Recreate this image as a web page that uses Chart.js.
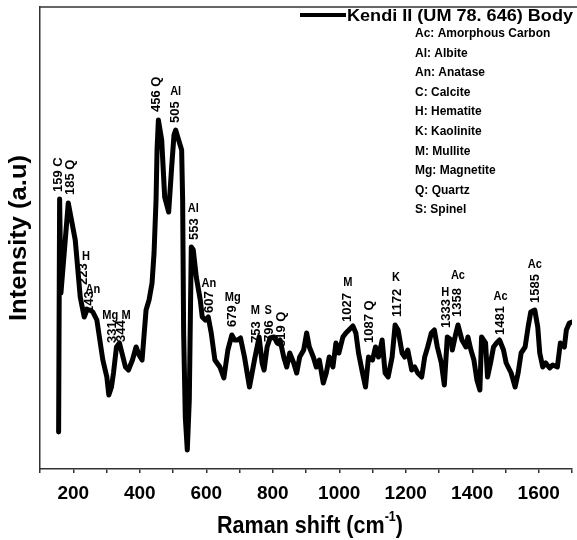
<!DOCTYPE html>
<html>
<head>
<meta charset="utf-8">
<script src="https://cdn.jsdelivr.net/npm/chart.js@4.4.1/dist/chart.umd.min.js"></script>
<style>
html,body{margin:0;padding:0;background:#fff;overflow:hidden;}
#wrap{width:581px;height:540px;}
</style>
</head>
<body>
<div id="wrap"><canvas id="c" width="581" height="540"></canvas></div>
<script>
// ---- data ----
const seriesName = 'Kendi II (UM 78. 646) Body';
const ramanShift = [156,159,163,185,206,221,227,233,241,250,259,271,280,289,301,307,315,321,330,339,348,357,366,378,389,398,407,419,428,437,443,449,452,456,466,475,487,496,503,508,516,526,529,532,537,543,549,555,561,570,582,588,597,606,615,626,641,653,665,677,685,694,703,715,730,745,759,768,774,783,792,804,813,822,833,842,851,863,872,881,893,902,910,922,931,940,952,961,970,981,990,999,1011,1020,1029,1041,1050,1058,1070,1079,1088,1100,1109,1118,1129,1138,1147,1159,1168,1177,1189,1197,1206,1218,1227,1236,1248,1257,1266,1277,1286,1295,1307,1316,1325,1337,1340,1351,1357,1369,1381,1387,1396,1405,1414,1423,1428,1440,1446,1455,1464,1473,1482,1494,1502,1517,1529,1538,1547,1559,1568,1576,1588,1597,1603,1612,1621,1633,1642,1656,1665,1677,1683,1692,1700];
const intensity = [37,270,176,266,229,172,162,152,159,159,157,149,129,109,92,74,82,96,122,126,114,102,99,109,122,114,109,159,169,186,216,269,319,349,329,272,257,302,334,339,330,319,269,136,52,19,69,222,219,192,169,152,149,152,136,109,102,91,119,134,129,129,131,112,82,109,132,106,99,122,131,132,126,129,112,102,116,106,96,112,119,136,122,112,102,109,86,96,112,102,126,116,132,136,139,143,136,116,96,82,112,109,122,112,129,96,92,112,144,139,116,112,119,99,102,96,92,112,122,136,139,122,106,84,132,129,119,136,144,129,122,132,119,109,89,79,132,126,92,106,122,126,129,119,106,96,82,96,116,122,142,157,159,142,116,102,106,101,104,102,126,122,139,146,147];
const xTickValues = [200,400,600,800,1000,1200,1400,1600];

// peak labels (rotated numbers) : text, shift, intensity at text bottom
const peakTexts  = ['159 C','185 Q','223','243','331','344','456 Q','505','553','607','679','753','796','819 Q','1027','1087 Q','1172','1333','1358','1481','1585'];
const peakShifts = [154,191,231,250,318,345,449,508,564,611,680,751,789,825,1026,1091,1174,1322,1354,1485,1591];
const peakBase   = [277,274,184,156,126,127,357,346,229,156,142,126,127,122,147,126,152,141,152,134,166];
// phase letters written horizontally above the numbers
const phaseTexts  = ['H','An','Mg M','Al','Al','An','Mg','M','S','M','K','H','Ac','Ac','Ac'];
const phaseShifts = [238,259,330,508,561,608,680,748,786,1026,1171,1319,1357,1485,1588];
const phaseLevel  = [213,180,154,378,261,186,172,159,159,187,192,177,194,173,205];

const legendKey = ['Ac: Amorphous Carbon','Al: Albite','An: Anatase','C: Calcite','H: Hematite','K: Kaolinite','M: Mullite','Mg: Magnetite','Q: Quartz','S: Spinel'];

const FONT = "'Liberation Sans', Arial, Helvetica, sans-serif";

const points = ramanShift.map((x,i)=>({x:x, y:intensity[i]}));

function fitText(ctx, text, x, y, w){
  const m = ctx.measureText(text).width;
  const k = w ? w / m : 1;
  ctx.save(); ctx.translate(x,y); ctx.scale(k,1); ctx.fillText(text,0,0); ctx.restore();
}

const decor = {
  id:'decor',
  afterDatasetsDraw(chart){
    const ctx = chart.ctx, ca = chart.chartArea;
    const xs = chart.scales.x, ys = chart.scales.y;
    ctx.save();
    // top frame line
    ctx.strokeStyle = '#333'; ctx.lineWidth = 1.5;
    ctx.beginPath(); ctx.moveTo(ca.left, ca.top); ctx.lineTo(ca.right+5, ca.top); ctx.stroke();

    ctx.fillStyle = '#000';
    // rotated peak numbers
    ctx.font = 'bold 13px ' + FONT;
    ctx.textBaseline = 'middle'; ctx.textAlign = 'left';
    peakTexts.forEach((t,i)=>{
      const px = xs.getPixelForValue(peakShifts[i]);
      const py = ys.getPixelForValue(peakBase[i]);
      ctx.save(); ctx.translate(px,py); ctx.rotate(-Math.PI/2); ctx.fillText(t,0,0); ctx.restore();
    });
    // horizontal phase letters
    ctx.textAlign = 'center';
    phaseTexts.forEach((t,i)=>{
      const px = xs.getPixelForValue(phaseShifts[i]);
      const py = ys.getPixelForValue(phaseLevel[i]);
      ctx.save(); ctx.translate(px,py); ctx.scale(0.85,1); ctx.fillText(t,0,0); ctx.restore();
    });

    // legend
    ctx.strokeStyle = '#000'; ctx.lineWidth = 4; ctx.lineCap = 'butt';
    ctx.beginPath(); ctx.moveTo(300,15); ctx.lineTo(346,15); ctx.stroke();
    ctx.font = 'bold 17px ' + FONT; ctx.textAlign = 'left'; ctx.textBaseline = 'alphabetic';
    fitText(ctx, chart.data.datasets[0].label, 347, 21, 226);
    ctx.font = 'bold 12px ' + FONT;
    legendKey.forEach((t,i)=>{
      const m = ctx.measureText(t).width;
      ctx.save(); ctx.translate(415, 37 + i*19.6); ctx.scale(1,1.1); ctx.fillText(t,0,0); ctx.restore();
    });

    // axis titles
    ctx.font = 'bold 24px ' + FONT;
    const main = 'Raman shift (cm';
    const wMain = ctx.measureText(main).width;
    ctx.font = 'bold 14px ' + FONT;
    const wSup = ctx.measureText('-1').width;
    ctx.font = 'bold 24px ' + FONT;
    const wClose = ctx.measureText(')').width;
    const total = wMain + wSup + wClose;
    const target = 186;
    const k = target/total;
    ctx.save();
    ctx.translate(310 - target/2, 533); ctx.scale(k,1);
    ctx.fillText(main,0,0);
    ctx.font = 'bold 14px ' + FONT; ctx.fillText('-1', wMain, -12);
    ctx.font = 'bold 24px ' + FONT; ctx.fillText(')', wMain + wSup, 0);
    ctx.restore();

    ctx.font = 'bold 24px ' + FONT;
    const yt = 'Intensity (a.u)';
    const wy = ctx.measureText(yt).width;
    ctx.save();
    ctx.translate(26, (ca.top+ca.bottom)/2); ctx.rotate(-Math.PI/2);
    ctx.scale(166/wy,1); ctx.textAlign='center'; ctx.fillText(yt,0,0);
    ctx.restore();
    ctx.restore();
  }
};

new Chart(document.getElementById('c'), {
  type:'line',
  data:{ datasets:[{
    label: seriesName,
    data: points,
    borderColor:'#000',
    borderWidth:5,
    pointRadius:0,
    fill:false,
    tension:0,
    borderJoinStyle:'round',
    borderCapStyle:'round'
  }]},
  options:{
    responsive:false,
    animation:false,
    events:[],
    layout:{ padding:{ top:7, left:0, right:0, bottom:0 } },
    plugins:{ legend:{display:false}, tooltip:{enabled:false}, title:{display:false} },
    scales:{
      x:{
        type:'linear', min:100, max:1700,
        ticks:{
          stepSize:100, autoSkip:false, maxRotation:0, padding:9,
          color:'#000',
          font:{ family:FONT, size:19, weight:'bold' },
          callback:(v)=> xTickValues.includes(v) ? String(v) : ''
        },
        grid:{ display:true, drawOnChartArea:false, drawTicks:true, tickLength:4, color:'#333', lineWidth:1.5 },
        border:{ display:true, color:'#333', width:1.5 },
        afterFit:(s)=>{ s.height = 71; }
      },
      y:{
        min:0, max:462,
        ticks:{ display:false },
        grid:{ display:false, drawTicks:false },
        border:{ display:true, color:'#333', width:1.5 },
        afterFit:(s)=>{ s.width = 40; }
      }
    }
  },
  plugins:[decor]
});
</script>
</body>
</html>
